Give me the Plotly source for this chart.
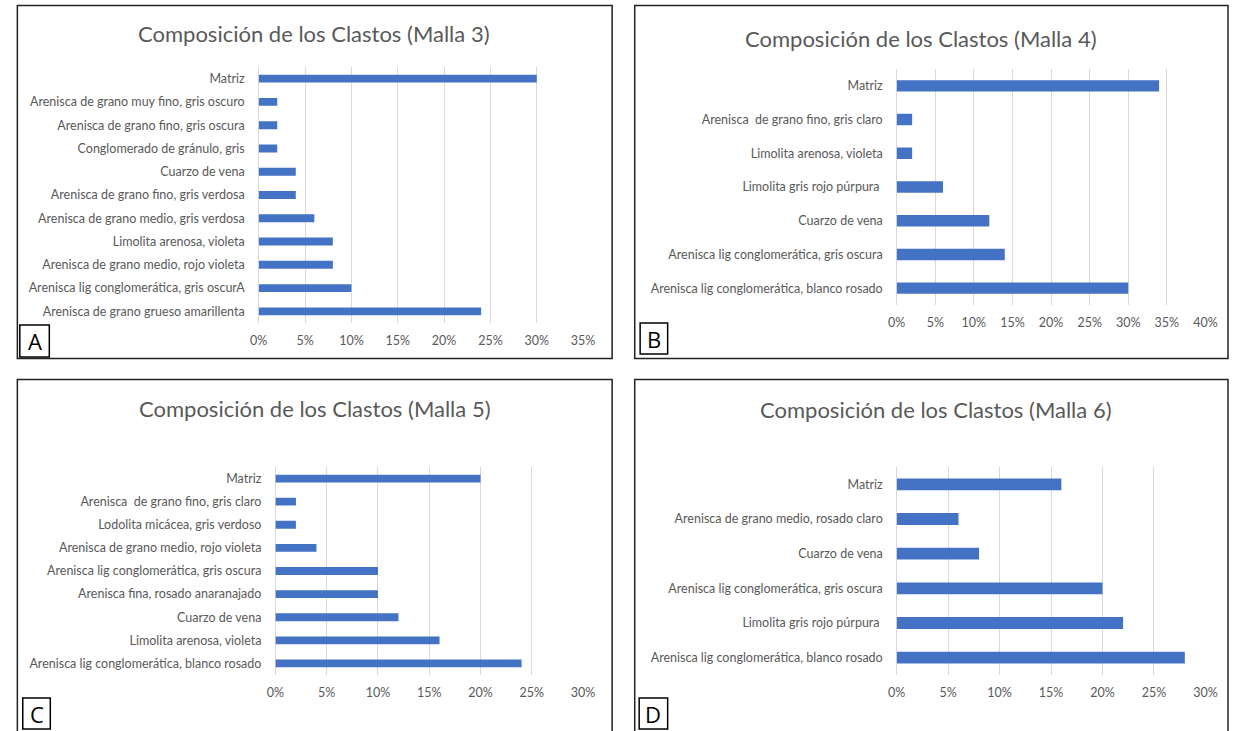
import plotly.graph_objects as go

W, H = 1241, 731

# Malla 3
cat_m3 = [
    "Matriz",
    "Arenisca de grano muy fino, gris oscuro",
    "Arenisca de grano fino, gris oscura",
    "Conglomerado de gránulo, gris",
    "Cuarzo de vena",
    "Arenisca de grano fino, gris verdosa",
    "Arenisca de grano medio, gris verdosa",
    "Limolita arenosa, violeta",
    "Arenisca de grano medio, rojo violeta",
    "Arenisca lig conglomerática, gris oscurA",
    "Arenisca de grano grueso amarillenta",
]
val_m3 = [30, 2, 2, 2, 4, 4, 6, 8, 8, 10, 24]

# Malla 4
cat_m4 = [
    "Matriz",
    "Arenisca\u00a0 de grano fino, gris claro",
    "Limolita arenosa, violeta",
    "Limolita gris rojo púrpura\u00a0",
    "Cuarzo de vena",
    "Arenisca lig conglomerática, gris oscura",
    "Arenisca lig conglomerática, blanco rosado",
]
val_m4 = [34, 2, 2, 6, 12, 14, 30]

# Malla 5
cat_m5 = [
    "Matriz",
    "Arenisca\u00a0 de grano fino, gris claro",
    "Lodolita micácea, gris verdoso",
    "Arenisca de grano medio, rojo violeta",
    "Arenisca lig conglomerática, gris oscura",
    "Arenisca fina, rosado anaranajado",
    "Cuarzo de vena",
    "Limolita arenosa, violeta",
    "Arenisca lig conglomerática, blanco rosado",
]
val_m5 = [20, 2, 2, 4, 10, 10, 12, 16, 24]

# Malla 6
cat_m6 = [
    "Matriz",
    "Arenisca de grano medio, rosado claro",
    "Cuarzo de vena",
    "Arenisca lig conglomerática, gris oscura",
    "Limolita gris rojo púrpura\u00a0",
    "Arenisca lig conglomerática, blanco rosado",
]
val_m6 = [16, 6, 8, 20, 22, 28]

titles = [
    "Composición de los Clastos (Malla 3)",
    "Composición de los Clastos (Malla 4)",
    "Composición de los Clastos (Malla 5)",
    "Composición de los Clastos (Malla 6)",
]
letters = ["A", "B", "C", "D"]
x_max = [35, 40, 30, 30]

BAR = "#4472C4"
GRID = "#D9D9D9"
TXT = "#595959"
FONT = "Lato"


def px(x):
    return x / W


def py(y):
    return 1 - y / H


# plot areas in pixel coordinates: (left, right, top, bottom)
areas = [
    (254, 584, 67, 323),
    (903, 1217, 69, 305),
    (271, 584, 467, 675),
    (903, 1217, 467, 675),
]
# panel frames: (left, right, top, bottom)
frames = [
    (8.5, 613.5, 5.5, 358.5),
    (636.5, 1240, 5.5, 358.5),
    (8.5, 613.5, 379.5, 740),
    (636.5, 1240, 379.5, 740),
]
title_pos = [(310, 34), (928, 38), (311, 408), (943, 409)]
letter_box = [(11, 41, 325, 357), (642, 670, 323, 354), (14, 42, 698, 729), (641, 670, 698, 729)]

data = [(cat_m3, val_m3), (cat_m4, val_m4), (cat_m5, val_m5), (cat_m6, val_m6)]

fig = go.Figure()
shapes = []
annotations = []

for i, (cats, vals) in enumerate(data):
    n = i + 1
    xa = "x" if n == 1 else f"x{n}"
    ya = "y" if n == 1 else f"y{n}"
    fig.add_trace(go.Bar(
        x=vals, y=cats, orientation="h", width=0.34,
        marker=dict(color=BAR, line=dict(width=0)),
        xaxis=xa, yaxis=ya, showlegend=False, hoverinfo="x+y",
    ))
    l, r, t, b = areas[i]
    xkey = "xaxis" if n == 1 else f"xaxis{n}"
    ykey = "yaxis" if n == 1 else f"yaxis{n}"
    fig.layout[xkey] = dict(
        domain=[px(l), px(r)], range=[0, x_max[i]], dtick=5, ticksuffix="%",
        showgrid=True, gridcolor=GRID, gridwidth=1,
        zeroline=True, zerolinecolor=GRID, zerolinewidth=1,
        showline=False, anchor=ya, fixedrange=True,
        tickfont=dict(family=FONT, size=12.5, color=TXT), ticks="",
        ticklabelstandoff=8,
    )
    fig.layout[ykey] = dict(
        domain=[py(b), py(t)], autorange="reversed", type="category",
        showgrid=False, zeroline=False, showline=False, anchor=xa,
        tickfont=dict(family=FONT, size=12.5, color=TXT), ticks="",
        ticklabelstandoff=13, fixedrange=True,
    )

    fl, fr, ft, fb = frames[i]
    shapes.append(dict(type="rect", xref="paper", yref="paper",
                       x0=px(fl), x1=px(fr), y0=py(fb), y1=py(ft),
                       line=dict(color="#222222", width=1.5), fillcolor="rgba(0,0,0,0)"))
    bl, br, bt, bb = letter_box[i]
    shapes.append(dict(type="rect", xref="paper", yref="paper",
                       x0=px(bl), x1=px(br), y0=py(bb), y1=py(bt),
                       line=dict(color="#000000", width=1.5), fillcolor="white"))
    annotations.append(dict(text=letters[i], xref="paper", yref="paper",
                            x=px((bl + br) / 2), y=py((bt + bb) / 2),
                            xanchor="center", yanchor="middle", showarrow=False,
                            font=dict(family="Open Sans", size=22, color="#000000")))
    tx, ty = title_pos[i]
    annotations.append(dict(text=titles[i], xref="paper", yref="paper",
                            x=px(tx), y=py(ty), xanchor="center", yanchor="middle",
                            showarrow=False,
                            font=dict(family=FONT, size=22, color=TXT)))

fig.update_layout(
    width=W, height=H, margin=dict(l=0, r=0, t=0, b=0),
    paper_bgcolor="white", plot_bgcolor="white",
    bargap=0.66, shapes=shapes, annotations=annotations,
)

fig.write_html("out.html", config={"displayModeBar": False})
